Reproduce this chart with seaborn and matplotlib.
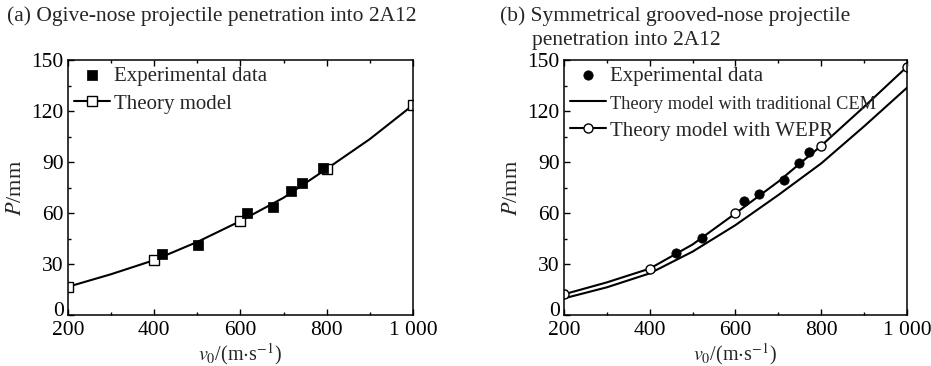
import numpy as np
import pandas as pd
import seaborn as sns
import matplotlib.pyplot as plt
import matplotlib.transforms as mtransforms
from matplotlib.ticker import MultipleLocator, FuncFormatter

# data
v_exp_a = [419, 501, 614, 675, 718, 742, 792]
p_exp_a = [35.7, 41.2, 59.8, 63.7, 73.1, 77.6, 86.3]

v_model = [200, 300, 400, 500, 600, 700, 800, 900, 1000]
p_model_a = [16.6, 24.0, 32.3, 43.0, 55.3, 69.0, 86.0, 103.5, 123.5]

v_exp_b = [461, 523, 621, 655, 713, 747, 771]
p_exp_b = [36.3, 45.1, 67.3, 71.2, 79.4, 89.2, 95.9]

p_cem_b = [9.8, 16.3, 24.5, 37.3, 52.9, 70.6, 89.2, 111.0, 133.7]
p_wepr_b = [12.2, 19.2, 27.3, 41.5, 59.8, 78.5, 99.6, 122.5, 146.0]

sns.set_style('ticks')
plt.rcParams['font.family'] = ['Liberation Serif', 'DejaVu Serif']
plt.rcParams['mathtext.fontset'] = 'stix'
plt.rcParams['xtick.direction'] = 'in'
plt.rcParams['ytick.direction'] = 'in'

fig = plt.figure(figsize=(9.31, 3.66), dpi=100)
ax1 = fig.add_axes([0.0730, 0.1393, 0.3706, 0.6967])
ax2 = fig.add_axes([0.6058, 0.1393, 0.3684, 0.6967])

sns.scatterplot(x=v_exp_a, y=p_exp_a, ax=ax1, marker='s', s=42,
                color='black', edgecolor='black', label='Experimental data',
                zorder=3)
sns.lineplot(x=v_model, y=p_model_a, ax=ax1, color='black', lw=1.5,
             marker='s', markersize=6.5, markerfacecolor='white',
             markeredgecolor='black', markeredgewidth=1, markevery=2,
             label='Theory model')

sns.scatterplot(x=v_exp_b, y=p_exp_b, ax=ax2, marker='o', s=45,
                color='black', edgecolor='black', label='Experimental data',
                zorder=3)
sns.lineplot(x=v_model, y=p_cem_b, ax=ax2, color='black', lw=1.5,
             label='Theory model with traditional CEM')
sns.lineplot(x=v_model, y=p_wepr_b, ax=ax2, color='black', lw=1.5,
             marker='o', markersize=6.5, markerfacecolor='white',
             markeredgecolor='black', markeredgewidth=1, markevery=2,
             label='Theory model with WEPR')

order = {'Experimental data': 0, 'Theory model': 1,
         'Theory model with traditional CEM': 1, 'Theory model with WEPR': 2}

fmt = FuncFormatter(lambda v, p: '1 000' if v == 1000 else f'{int(v)}')
for ax in (ax1, ax2):
    ax.set_xlim(200, 1000)
    ax.set_ylim(0, 150)
    ax.xaxis.set_major_locator(MultipleLocator(200))
    ax.xaxis.set_minor_locator(MultipleLocator(100))
    ax.yaxis.set_major_locator(MultipleLocator(30))
    ax.yaxis.set_minor_locator(MultipleLocator(15))
    ax.xaxis.set_major_formatter(fmt)
    ax.tick_params(which='both', top=True, right=False, labelsize=15.5,
                   width=1, colors='black')
    ax.tick_params(axis='x', pad=4)
    ax.tick_params(axis='y', pad=3)
    ax.tick_params(which='major', length=4)
    ax.tick_params(which='minor', length=2.5)
    for s in ax.spines.values():
        s.set_visible(True)
        s.set_color('black')
        s.set_linewidth(1.1)
    ax.set_xlabel(r'$v_0$/(m$\cdot$s$^{-1}$)', fontsize=14.5, labelpad=1)
    ax.set_ylabel(r'$P$/mm', fontsize=16, labelpad=4)
    h, l = ax.get_legend_handles_labels()
    pairs = sorted(zip(h, l), key=lambda t: order[t[1]])
    leg = ax.legend([p[0] for p in pairs], [p[1] for p in pairs],
                    loc='upper left', frameon=False, fontsize=15,
                    handlelength=1.7, handletextpad=0.2,
                    labelspacing=0.4, borderaxespad=0.1, borderpad=0.2)
    for t in leg.get_texts():
        if 'CEM' in t.get_text():
            t.set_fontsize(13.2)

fig.canvas.draw()
# lift the "0" label a touch so it sits just above the "200" label
shift = mtransforms.ScaledTranslation(0, 4 / 72, fig.dpi_scale_trans)
for ax in (ax1, ax2):
    for lab in ax.get_yticklabels():
        if lab.get_text() == '0':
            lab.set_transform(lab.get_transform() + shift)

fig.text(0.008, 0.955, '(a) Ogive-nose projectile penetration into 2A12',
         fontsize=15.5, va='center', ha='left')
fig.text(0.537, 0.955, '(b) Symmetrical grooved-nose projectile',
         fontsize=15.5, va='center', ha='left')
fig.text(0.571, 0.89, 'penetration into 2A12',
         fontsize=15.5, va='center', ha='left')

fig.savefig('out.png', dpi=100)
